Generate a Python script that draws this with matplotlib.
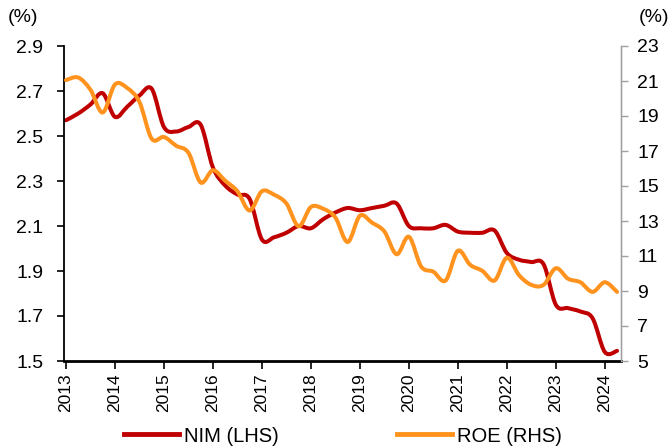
import numpy as np
import matplotlib
matplotlib.use("Agg")
import matplotlib.pyplot as plt
from matplotlib.path import Path
from matplotlib.patches import PathPatch
from matplotlib.lines import Line2D

plt.rcParams["font.family"] = ["Liberation Sans", "DejaVu Sans"]

# quarterly observations, 2013Q1 .. 2024Q2
quarters = [2013 + q / 4 for q in range(46)]
nim = [2.57, 2.60, 2.64, 2.69, 2.585, 2.63, 2.68, 2.71,
       2.54, 2.52, 2.54, 2.55, 2.36, 2.28, 2.24, 2.22,
       2.04, 2.05, 2.07, 2.10, 2.09, 2.13, 2.16, 2.18,
       2.17, 2.18, 2.19, 2.20, 2.10, 2.09, 2.09, 2.105,
       2.075, 2.07, 2.07, 2.08, 1.98, 1.95, 1.94, 1.93,
       1.75, 1.735, 1.72, 1.69, 1.54, 1.545]
roe = [21.05, 21.2, 20.5, 19.2, 20.8, 20.6, 19.8, 17.7,
       17.8, 17.3, 16.9, 15.2, 15.9, 15.3, 14.7, 13.6,
       14.7, 14.5, 14.0, 12.7, 13.8, 13.7, 13.2, 11.8,
       13.3, 12.9, 12.4, 11.1, 12.1, 10.4, 10.1, 9.6,
       11.3, 10.5, 10.15, 9.6, 10.9, 9.9, 9.35, 9.35,
       10.3, 9.7, 9.5, 8.95, 9.5, 8.95]

year_ticks = list(range(2013, 2025))
left_ticks = [1.5, 1.7, 1.9, 2.1, 2.3, 2.5, 2.7, 2.9]
right_ticks = [5, 7, 9, 11, 13, 15, 17, 19, 21, 23]

RED = "#C00000"
ORANGE = "#FF931E"
FS = 14


def smooth_path(x, y):
    """Excel-like smoothed line: cubic Bezier segments through the points."""
    x = np.asarray(x, float)
    y = np.asarray(y, float)
    verts = [(x[0], y[0])]
    codes = [Path.MOVETO]
    n = len(x)
    for i in range(n - 1):
        p0 = (x[max(i - 1, 0)], y[max(i - 1, 0)])
        p1 = (x[i], y[i])
        p2 = (x[i + 1], y[i + 1])
        p3 = (x[min(i + 2, n - 1)], y[min(i + 2, n - 1)])
        c1 = (p1[0] + (p2[0] - p0[0]) / 6, p1[1] + (p2[1] - p0[1]) / 6)
        c2 = (p2[0] - (p3[0] - p1[0]) / 6, p2[1] - (p3[1] - p1[1]) / 6)
        verts += [c1, c2, p2]
        codes += [Path.CURVE4] * 3
    return Path(verts, codes)


fig = plt.figure(figsize=(6.71, 4.48), dpi=100)
ax = fig.add_axes([64 / 671, 1 - 361 / 448, (620.5 - 64) / 671, (361 - 46) / 448])
ax2 = ax.twinx()

ax.add_patch(PathPatch(smooth_path(quarters, nim), fill=False, edgecolor=RED,
                       lw=2.9, capstyle="round", joinstyle="round"))
ax2.add_patch(PathPatch(smooth_path(quarters, roe), fill=False, edgecolor=ORANGE,
                        lw=2.9, capstyle="round", joinstyle="round"))

ax.set_xlim(2012.96, 2024.32)
ax.set_ylim(1.5, 2.9)
ax2.set_ylim(5, 23)

ax.set_xticks(year_ticks)
ax.set_xticklabels([str(y) for y in year_ticks], rotation=90, fontsize=12.5)
ax.set_yticks(left_ticks)
ax.set_yticklabels([f"{v:.1f}" for v in left_ticks], fontsize=FS)
ax2.set_yticks(right_ticks)
ax2.set_yticklabels([str(v) for v in right_ticks], fontsize=FS)

for a in (ax, ax2):
    a.spines["top"].set_visible(False)
ax.spines["left"].set_linewidth(1.3)
ax.spines["bottom"].set_linewidth(2.0)
ax2.spines["left"].set_visible(False)
ax2.spines["bottom"].set_visible(False)
ax2.spines["right"].set_color("#A0A0A0")
ax2.spines["right"].set_linewidth(1.0)
ax.tick_params(axis="y", direction="out", length=5, width=1.2, pad=10)
ax.tick_params(axis="x", direction="out", length=6, width=1.2, pad=3)
ax2.tick_params(axis="y", direction="out", length=5, width=1.0, color="#A0A0A0", pad=7)

fig.text(8 / 671, 1 - 17 / 448, "(%)", fontsize=FS, va="center", ha="left")
fig.text(669 / 671, 1 - 17 / 448, "(%)", fontsize=FS, va="center", ha="right")

handles = [Line2D([], [], color=RED, lw=3.5), Line2D([], [], color=ORANGE, lw=3.5)]
fig.legend(handles, ["NIM (LHS)", "ROE (RHS)"], loc="center", ncol=2,
           bbox_to_anchor=(343 / 671, 1 - 436 / 448), frameon=False, fontsize=14.5,
           handlelength=2.7, handletextpad=0.25, columnspacing=5.9,
           borderpad=0.1)

fig.savefig("out.png", dpi=100)
